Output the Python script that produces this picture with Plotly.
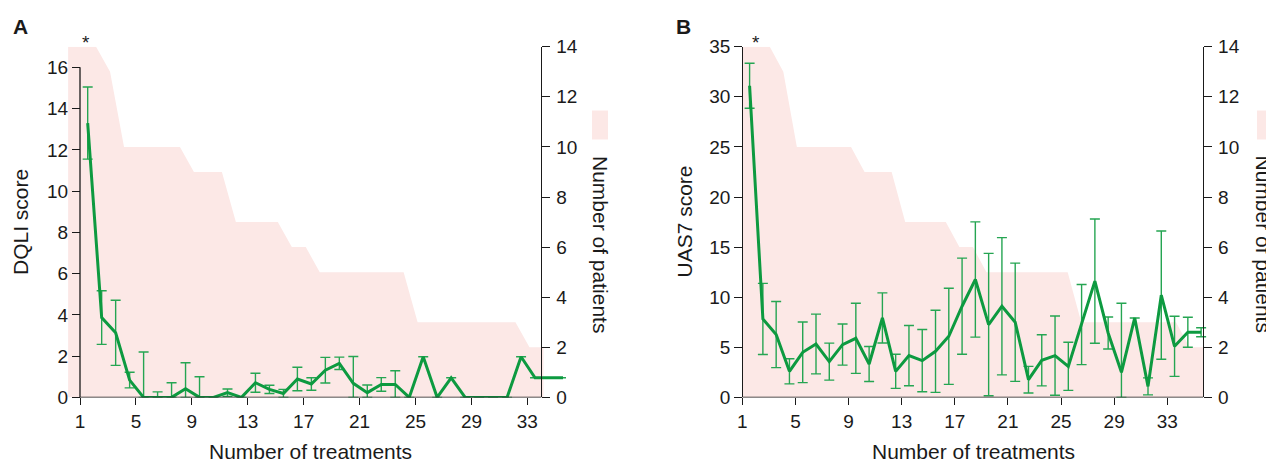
import numpy as np
import plotly.graph_objects as go

# the page places the figure 8px in from the top-left corner of the window
WIN_W, WIN_H = 1274, 464
OFF = 8
W, H = WIN_W - OFF, WIN_H - OFF

# ---------------- data ----------------
treatments = list(range(1, 36))
n_patients = [14, 14, 14, 13, 10, 10, 10, 10, 10, 9, 9, 9, 7, 7, 7, 7, 6, 6,
              5, 5, 5, 5, 5, 5, 5, 3, 3, 3, 3, 3, 3, 3, 3, 2, 2]

dqli_mean = [13.3, 3.87, 3.13, 0.84, 0.0, 0.0, 0.0, 0.42, 0.0, 0.0, 0.23, 0.0,
             0.71, 0.39, 0.19, 0.89, 0.65, 1.32, 1.65, 0.68, 0.23, 0.63, 0.63,
             0.0, 1.97, 0.0, 0.95, 0.0, 0.0, 0.0, 0.0, 1.97, 0.95, 0.95, 0.95]
dqli_sd = [1.75, 1.3, 1.58, 0.38, 2.2, 0.27, 0.71, 1.26, 1.0, 0.0, 0.18, 0.0,
           0.46, 0.2, 0.2, 0.57, 0.3, 0.62, 0.3, 1.3, 0.37, 0.33, 0.66,
           0.0, 0.0, 0.0, 0.0, 0.0, 0.0, 0.0, 0.0, 0.0, 0.0, 0.0, 0.0]

uas7_mean = [31.1, 7.83, 6.27, 2.6, 4.5, 5.33, 3.57, 5.27, 5.9, 3.33, 7.93, 2.6,
             4.17, 3.67, 4.6, 6.1, 9.1, 11.77, 7.27, 9.1, 7.5, 1.77, 3.7, 4.17,
             3.1, 7.27, 11.6, 6.43, 2.5, 7.93, 1.1, 10.2, 5.1, 6.5, 6.5]
uas7_sd = [2.25, 3.55, 3.3, 1.25, 3.03, 2.98, 1.85, 2.05, 3.5, 1.75, 2.5, 1.7,
           3.0, 3.1, 4.1, 4.8, 4.8, 5.75, 7.1, 6.85, 5.9, 1.33, 2.55, 3.95,
           2.4, 4.0, 6.2, 1.6, 6.9, 0.0, 0.85, 6.4, 3.0, 1.5, 0.45]

x_ticks = list(range(1, 34, 4))
dqli_ticks = list(range(0, 17, 2))
uas7_ticks = list(range(0, 36, 5))
patient_ticks = list(range(0, 15, 2))

# ---------------- style ----------------
FONT = "Liberation Sans, Arial, Helvetica, sans-serif"
PINK = "#fce8e6"
GREEN = "#0d9a40"
EB_GREEN = "#25a552"
INK = "#1a1a1a"
TICK_SIZE = 19
TITLE_SIZE = 21

def fx(p):
    return (p - OFF) / W

def fy(p):
    return 1 - (p - OFF) / H

# point offsets within each treatment slot
LINE_OFF = 0.55
area_x_a = [k + 0.15 for k in range(len(n_patients))]
area_x_b = list(np.linspace(1.03, 35.7, len(n_patients)))
line_x = [t + LINE_OFF for t in treatments]

# panel geometry (window pixels)
A_X1, A_SCALE = 80.0, 13.98
A_DOM = (68.0, 566.0)
A_RIGHT_AX = 34.0
B_X1, B_SCALE = 742.3, 13.28
B_DOM = (742.3, 1207.0)
B_RIGHT_AX = 35.7
Y_TOP, Y_BOT = 46.7, 397.4

a_range = [1 + (A_DOM[0] - A_X1) / A_SCALE, 1 + (A_DOM[1] - A_X1) / A_SCALE]
b_range = [1 + (B_DOM[0] - B_X1) / B_SCALE, 1 + (B_DOM[1] - B_X1) / B_SCALE]

fig = go.Figure()

def add_panel(xa, ya_pat, ya_score, area_x, mean, sd):
    fig.add_trace(go.Scatter(
        x=area_x, y=n_patients, mode="lines", fill="tozeroy",
        line=dict(width=0, color=PINK), fillcolor=PINK,
        xaxis=xa, yaxis=ya_pat, hoverinfo="skip", showlegend=False))
    fig.add_trace(go.Scatter(
        x=line_x, y=mean, mode="lines",
        line=dict(color=GREEN, width=3),
        error_y=dict(type="data", array=sd,
                     arrayminus=[min(s, m) for s, m in zip(sd, mean)],
                     color=EB_GREEN, thickness=1.4, width=5),
        xaxis=xa, yaxis=ya_score, showlegend=False))

add_panel("x", "y", "y2", area_x_a, dqli_mean, dqli_sd)
add_panel("x2", "y3", "y4", area_x_b, uas7_mean, uas7_sd)

common_x = dict(tickvals=x_ticks, ticks="outside", ticklen=7, tickwidth=1.3,
                tickcolor=INK, showline=False, showgrid=False, zeroline=False,
                automargin=False,
                tickfont=dict(size=TICK_SIZE, color=INK, family=FONT))
common_y = dict(ticks="outside", ticklen=8, tickwidth=1.3, tickcolor=INK,
                linecolor=INK, linewidth=1.3, showgrid=False, zeroline=False,
                automargin=False,
                tickfont=dict(size=TICK_SIZE, color=INK, family=FONT))

ydom = [fy(Y_BOT), fy(Y_TOP)]

fig.update_layout(
    template="none",
    width=W, height=H,
    margin=dict(l=0, r=0, t=0, b=0, pad=0, autoexpand=False),
    paper_bgcolor="white", plot_bgcolor="rgba(0,0,0,0)",
    font=dict(family=FONT, color=INK),
    showlegend=False,
    xaxis=dict(domain=[fx(A_DOM[0]), fx(A_DOM[1])], range=a_range,
               anchor="y", **common_x),
    yaxis=dict(domain=ydom, range=[0, 14], tickvals=patient_ticks,
               side="right", anchor="free", position=fx(A_X1 + (A_RIGHT_AX - 1) * A_SCALE),
               showline=True, ticklabelstandoff=2, **common_y),
    yaxis2=dict(range=[0, 17], tickvals=dqli_ticks, overlaying="y",
                side="left", anchor="free", position=fx(A_X1),
                showline=False, ticklabelstandoff=0, **common_y),
    xaxis2=dict(domain=[fx(B_DOM[0]), fx(B_DOM[1])], range=b_range,
                anchor="y3", **common_x),
    yaxis3=dict(domain=ydom, range=[0, 14], tickvals=patient_ticks,
                side="right", anchor="free", position=fx(B_X1 + (B_RIGHT_AX - 1) * B_SCALE),
                showline=True, ticklabelstandoff=2, **common_y),
    yaxis4=dict(range=[0, 35], tickvals=uas7_ticks, overlaying="y3",
                side="left", anchor="free", position=fx(B_X1),
                showline=True, ticklabelstandoff=0, **common_y),
)

# axis lines that do not span the full plotting area
line_style = dict(color=INK, width=1.3)
fig.add_shape(type="line", xref="x", yref="y", x0=1, x1=A_RIGHT_AX, y0=0, y1=0,
              line=line_style, layer="above")
fig.add_shape(type="line", xref="x", yref="y2", x0=1, x1=1, y0=0, y1=dqli_ticks[-1],
              line=line_style, layer="above")
fig.add_shape(type="line", xref="x2", yref="y3", x0=1, x1=B_RIGHT_AX, y0=0, y1=0,
              line=line_style, layer="above")

# legend swatches for the patient area
for x0 in (592.0, 1257.0):
    fig.add_shape(type="rect", xref="paper", yref="paper",
                  x0=fx(x0), x1=fx(x0 + 16), y0=fy(139.5), y1=fy(110.5),
                  fillcolor=PINK, line=dict(width=0), layer="below")

ann = []
def text(x, y, s, size=TITLE_SIZE, angle=0, bold=False, yanchor="middle"):
    ann.append(dict(x=x, y=y, xref="paper", yref="paper",
                    text=f"<b>{s}</b>" if bold else s,
                    showarrow=False, textangle=angle, xanchor="center", yanchor=yanchor,
                    borderpad=0,
                    font=dict(size=size, color=INK, family=FONT)))

text(fx(20), fy(27), "A", size=21, bold=True)
text(fx(683.5), fy(27), "B", size=21, bold=True)
text(fx(86), fy(43), "*", size=19)
text(fx(756), fy(43), "*", size=19)
text(fx(20), fy(222), "DQLI score", angle=-90)
text(fx(683.5), fy(222), "UAS7 score", angle=-90)
text(fx(601), fy(244), "Number of patients", angle=90)
text(fx(1263.5), fy(244), "Number of patients", angle=90)
text(fx(310.5), fy(463.5), "Number of treatments", yanchor="bottom")
text(fx(973), fy(463.5), "Number of treatments", yanchor="bottom")
fig.update_layout(annotations=ann)

fig.write_html("out.html")
